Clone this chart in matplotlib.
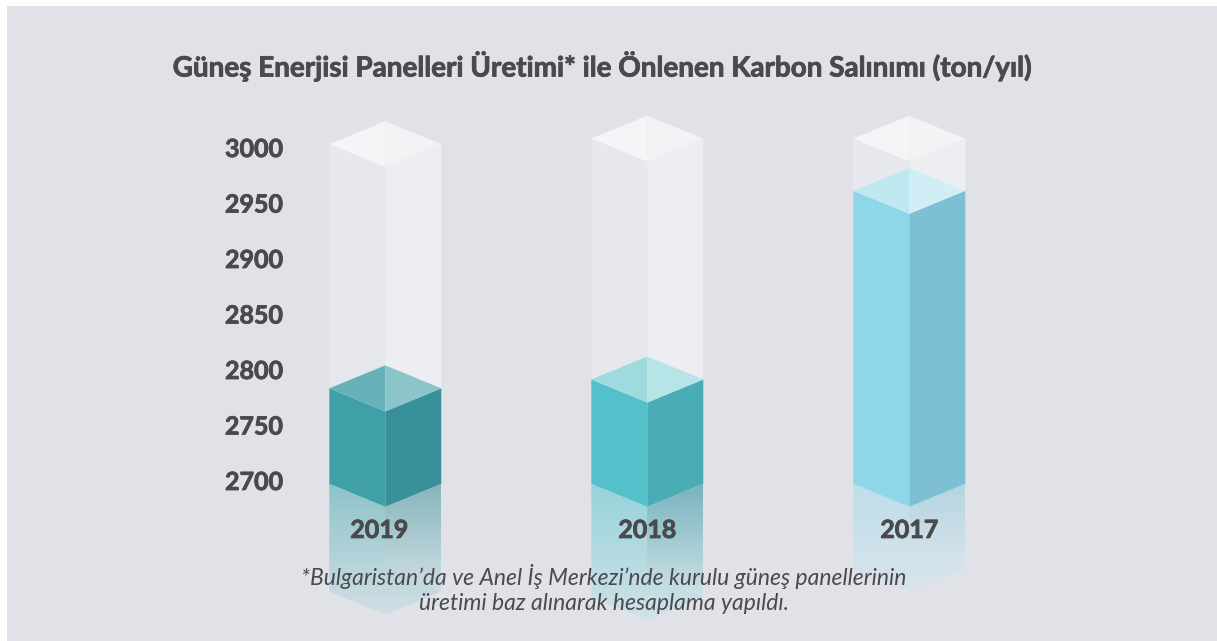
#!/usr/bin/env python3
"""Solar panel production avoided carbon chart, drawn as glassy isometric columns."""

import numpy as np
import matplotlib.pyplot as plt
import matplotlib.patheffects as pe
from matplotlib.colors import to_rgb
from matplotlib.patches import Polygon, Rectangle

WIDTH, HEIGHT = 1217, 641

# data
years = ['2019', '2018', '2017']
values = [2783, 2791, 2961]
ghost_tops = [3003, 3008, 3008]
base_value = 2697
reflection_depths = [97, 102, 77]  # in value units
y_ticks = [2700, 2750, 2800, 2850, 2900, 2950, 3000]

# colours per bar: left face, right face, top left, top right
face_left = ['#40A0A8', '#53C0CA', '#8FD7E8']
face_right = ['#38909A', '#4AACB5', '#7DBFD3']
top_left = ['#66B2B9', '#9EDBDE', '#C0E8F1']
top_right = ['#8BC5CA', '#B7E4E7', '#D1EEF6']
refl_left = ['#8CC3C8', '#96D2DA', '#BDDEEA']
refl_right = ['#86B5BC', '#77B3BD', '#B4D5E1']
refl_end = ['#D0DFE5', '#D0E2E8', '#D9E4EB']

BG = '#E1E2E7'
TEXT = '#4A4A4C'
FONT = 'Lato'

# layout: 1.11 px per value unit, bars 262 px apart
PX_PER_UNIT = 1.11
BAR_STEP = 262.0
HALF_W = 56.0 / BAR_STEP
DEPTH = 23.0 / PX_PER_UNIT

# Lato bold is lighter than the original face, thicken it a bit
HEAVY = [pe.withStroke(linewidth=0.6, foreground=TEXT)]


def face(ax, pts, color, z):
    ax.add_patch(Polygon(pts, closed=True, facecolor=color, edgecolor='none', zorder=z))


def prism(ax, x, low, high, left, right, tl, tr, z):
    """Two side faces and a split diamond top, side edges running low to high."""
    face(ax, [(x - HALF_W, low), (x, low - DEPTH), (x, high - DEPTH), (x - HALF_W, high)], left, z)
    face(ax, [(x, low - DEPTH), (x + HALF_W, low), (x + HALF_W, high), (x, high - DEPTH)], right, z)
    face(ax, [(x - HALF_W, high), (x, high + DEPTH), (x, high - DEPTH)], tl, z + 0.1)
    face(ax, [(x + HALF_W, high), (x, high + DEPTH), (x, high - DEPTH)], tr, z + 0.1)


def gradient_face(ax, pts, top, bottom, y_top, y_bottom, z):
    """Vertical colour fade clipped to a polygon."""
    c0, c1 = np.array(to_rgb(top)), np.array(to_rgb(bottom))
    t = np.linspace(0, 1, 256)[:, None, None]
    img = (1 - t) * c0[None, None, :] + t * c1[None, None, :]
    xs = [p[0] for p in pts]
    im = ax.imshow(img, extent=(min(xs), max(xs), y_bottom, y_top), aspect='auto',
                   interpolation='bilinear', zorder=z, origin='upper')
    clip = Polygon(pts, closed=True, transform=ax.transData, facecolor='none', edgecolor='none')
    ax.add_patch(clip)
    im.set_clip_path(clip)


def reflection(ax, i, x):
    low = base_value
    end = low - reflection_depths[i]
    y_bot = end - DEPTH
    # whole hexagon in the left colour, right face darker down to the mirrored back edge
    hexagon = [(x - HALF_W, low), (x, low - DEPTH), (x + HALF_W, low),
               (x + HALF_W, end), (x, end - DEPTH), (x - HALF_W, end)]
    gradient_face(ax, hexagon, refl_left[i], refl_end[i], low, y_bot, 1)
    right = [(x, low - DEPTH), (x + HALF_W, low), (x + HALF_W, end), (x, end + DEPTH)]
    gradient_face(ax, right, refl_right[i], refl_end[i], low, end, 1.5)


def main():
    fig = plt.figure(figsize=(WIDTH / 100, HEIGHT / 100), dpi=100, facecolor='white')
    fig.add_artist(Rectangle((7 / WIDTH, 0), 1 - 7 / WIDTH, 1 - 6 / HEIGHT, zorder=-1,
                             transform=fig.transFigure, facecolor=BG, edgecolor='none'))

    # axes start right of the tick labels, invisible frame
    left_px = 290.0
    ax = fig.add_axes([left_px / WIDTH, 0, 1 - left_px / WIDTH, 1])
    ax.patch.set_alpha(0)
    for s in ax.spines.values():
        s.set_visible(False)

    for i, year in enumerate(years):
        reflection(ax, i, i)
        prism(ax, i, base_value, ghost_tops[i], '#E7E8ED', '#EDEEF2', '#F4F5F7', '#F2F3F5', 2)
        prism(ax, i, base_value, values[i], face_left[i], face_right[i],
              top_left[i], top_right[i], 3)
        # 2019 label sits a little left of its bar in the original
        label_x = i - (6 / BAR_STEP if i == 0 else 0)
        ax.text(label_x, 2655, year, ha='center', va='center', fontsize=18,
                fontweight='bold', color=TEXT, family=FONT, zorder=6, path_effects=HEAVY)

    ax.set_xlim((left_px - 385.3) / BAR_STEP, (WIDTH - 385.3) / BAR_STEP)
    ax.set_ylim(3000 - (HEIGHT - 147.5) / PX_PER_UNIT, 3000 + 147.5 / PX_PER_UNIT)
    ax.set_xticks([])
    ax.set_yticks(y_ticks)
    ax.set_yticklabels([str(v) for v in y_ticks], fontsize=18, fontweight='bold',
                       color=TEXT, family=FONT, path_effects=HEAVY)
    ax.tick_params(axis='y', length=0, pad=5)

    fig.text(603 / WIDTH, 1 - 66 / HEIGHT,
             'Güneş Enerjisi Panelleri Üretimi* ile Önlenen Karbon Salınımı (ton/yıl)',
             ha='center', va='center', fontsize=20.05, fontweight='bold', color=TEXT, family=FONT,
             path_effects=HEAVY)
    fig.text(604 / WIDTH, 1 - 589 / HEIGHT,
             '*Bulgaristan’da ve Anel İş Merkezi’nde kurulu güneş panellerinin\n'
             'üretimi baz alınarak hesaplama yapıldı.',
             ha='center', va='center', fontsize=16.45, style='italic', color=TEXT, family=FONT,
             linespacing=1.2, zorder=7)

    fig.savefig('out.png', dpi=100, facecolor='white')
    plt.close(fig)


if __name__ == '__main__':
    main()
